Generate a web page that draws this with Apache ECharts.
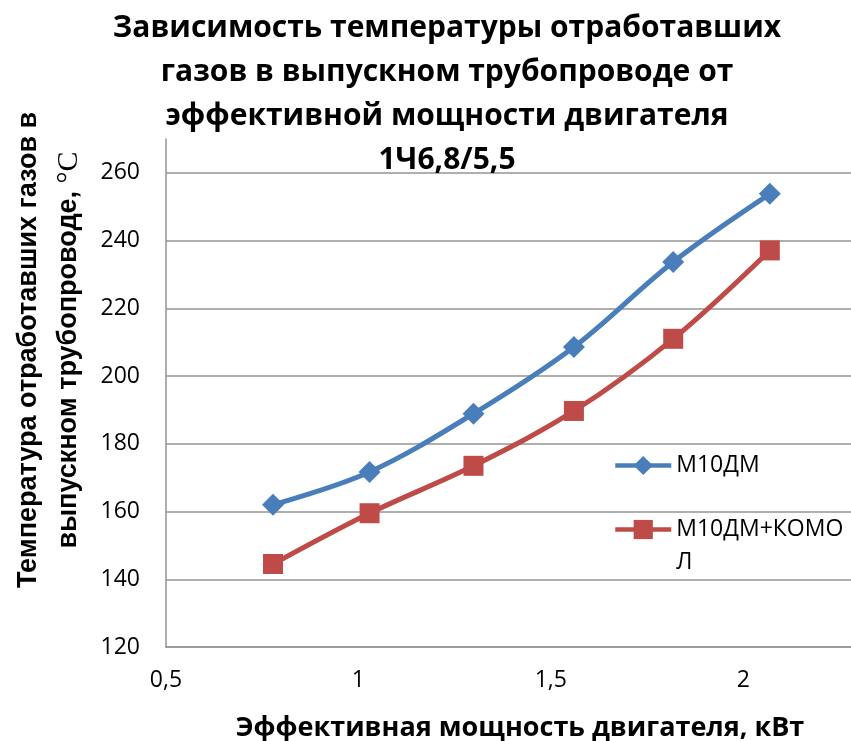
<!DOCTYPE html>
<html>
<head>
<meta charset="utf-8">
<script src="https://cdn.jsdelivr.net/npm/echarts@6/dist/echarts.min.js"></script>
<style>html,body{margin:0;padding:0;background:#fff}#c{width:851px;height:741px}</style>
</head>
<body>
<div id="c"></div>
<script>
const titleLines = ['Зависимость температуры отработавших', 'газов в выпускном трубопроводе от', 'эффективной мощности двигателя', '1Ч6,8/5,5'];
const xAxisTitle = 'Эффективная мощность двигателя, кВт';
const yAxisTitleLine1 = 'Температура отработавших газов в';
const yAxisTitleLine2 = 'выпускном трубопроводе, ';
const yAxisUnit = '°С';
const seriesNames = ['М10ДМ', 'М10ДМ+КОМОЛ'];
const xPower = [0.778, 1.029, 1.299, 1.560, 1.818, 2.069];
const tempM10DM = [162.0, 171.7, 188.9, 208.6, 233.7, 253.8];
const tempKomol = [144.5, 159.5, 173.5, 189.7, 211.0, 237.1];
const xTicks = {min: 0.5, max: 2.28, interval: 0.5};
const yTicks = {min: 120, max: 270, interval: 20};

const blue = '#4A7EBB', red = '#BE4B48';
const F = '"Open Sans", sans-serif';
const chart = echarts.init(document.getElementById('c'), null, {renderer: 'canvas'});
chart.setOption({
  animation: false,
  backgroundColor: '#fff',
  title: {
    text: titleLines.join('\n'),
    left: 447, top: 6, padding: 0, textAlign: 'center',
    textStyle: {fontFamily: F, fontWeight: 'bold', fontSize: 30, lineHeight: 44, color: '#000'}
  },
  grid: {left: 166, right: 0, top: 139, bottom: 94, containLabel: false, outerBoundsMode: 'none'},
  legend: [
    {
      data: [seriesNames[0]], orient: 'vertical', left: 613, top: 449, padding: 0,
      itemWidth: 56, itemHeight: 24, itemGap: 0,
      lineStyle: {width: 4.5},
      textStyle: {fontFamily: F, fontSize: 23, color: '#000', lineHeight: 33}
    },
    {
      data: [seriesNames[1]], orient: 'vertical', left: 613, top: 480, padding: 0,
      itemWidth: 56, itemHeight: 24, itemGap: 0,
      lineStyle: {width: 4.5},
      formatter: n => '\n' + n.slice(0, 10) + '\n' + n.slice(10),
      textStyle: {fontFamily: F, fontSize: 23, color: '#000', lineHeight: 33}
    }
  ],
  xAxis: {
    type: 'value', min: xTicks.min, max: xTicks.max, interval: xTicks.interval,
    axisLine: {show: true, onZero: false, lineStyle: {color: '#959595', width: 1.5}},
    axisTick: {show: false},
    splitLine: {show: false},
    axisLabel: {
      fontFamily: F, fontSize: 23, color: '#000', margin: 22, showMaxLabel: false,
      formatter: v => String(v).replace('.', ',')
    },
    name: xAxisTitle, nameLocation: 'middle', nameGap: 68,
    nameTextStyle: {fontFamily: F, fontWeight: 'bold', fontSize: 27, color: '#000', padding: [0, 0, 0, 23]}
  },
  yAxis: {
    type: 'value', min: yTicks.min, max: yTicks.max, interval: yTicks.interval,
    axisLine: {show: true, lineStyle: {color: '#959595', width: 1.5}},
    axisTick: {show: false},
    splitLine: {show: true, showMaxLine: false, lineStyle: {color: '#959595', width: 1.5}},
    axisLabel: {fontFamily: F, fontSize: 23, color: '#000', margin: 26, showMaxLabel: false}
  },
  graphic: [{
    type: 'text', x: 49, y: 350, rotation: Math.PI / 2,
    style: {
      text: yAxisTitleLine1 + '\n' + yAxisTitleLine2 + '{u|' + yAxisUnit + '}',
      fontFamily: '"Liberation Sans", Arial, sans-serif', fontWeight: 'bold', fontSize: 27,
      lineHeight: 40, fill: '#000', align: 'center', verticalAlign: 'middle',
      rich: {u: {fontFamily: '"Liberation Serif", serif', fontWeight: 'normal', fontSize: 30, lineHeight: 40, fill: '#000'}}
    }
  }],
  series: [
    {
      name: seriesNames[0], type: 'line', smooth: 0.35,
      data: xPower.map((x, i) => [x, tempM10DM[i]]),
      symbol: 'diamond', symbolSize: 22,
      lineStyle: {color: blue, width: 5},
      itemStyle: {color: blue}
    },
    {
      name: seriesNames[1], type: 'line', smooth: 0.35,
      data: xPower.map((x, i) => [x, tempKomol[i]]),
      symbol: 'rect', symbolSize: 20,
      lineStyle: {color: red, width: 5},
      itemStyle: {color: red}
    }
  ]
});
</script>
</body>
</html>
